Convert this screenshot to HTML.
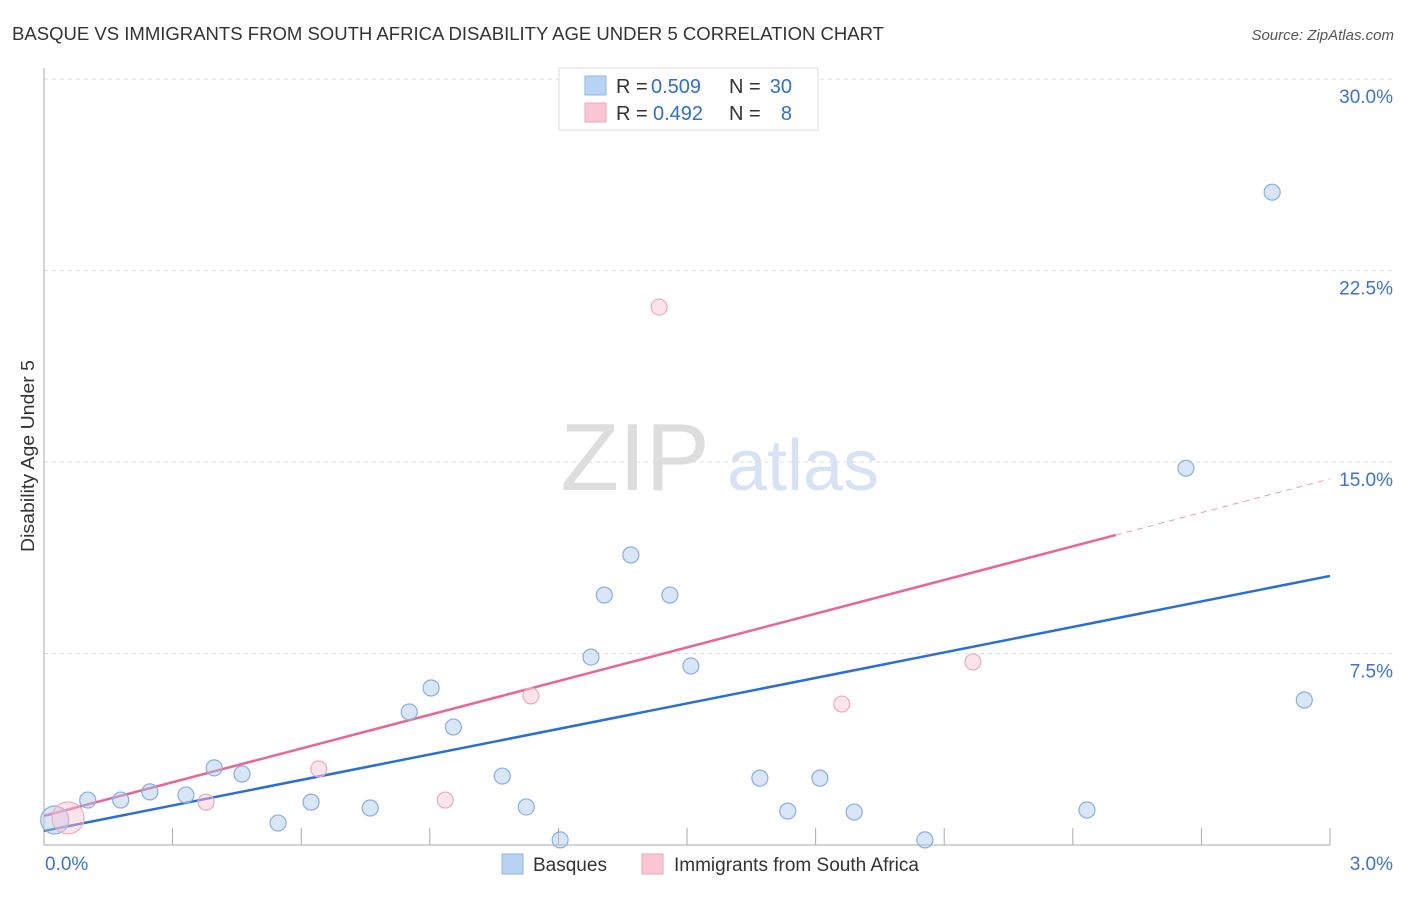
<!DOCTYPE html>
<html><head><meta charset="utf-8"><style>
body{margin:0;background:#fff;font-family:"Liberation Sans",sans-serif;}
svg text{font-family:"Liberation Sans",sans-serif;}
</style></head><body>
<svg id="chart" width="1406" height="892" xmlns="http://www.w3.org/2000/svg">
<text x="12" y="40" font-size="18" fill="#333" textLength="872" lengthAdjust="spacingAndGlyphs">BASQUE VS IMMIGRANTS FROM SOUTH AFRICA DISABILITY AGE UNDER 5 CORRELATION CHART</text>
<text x="1394" y="40" font-size="15" fill="#555" text-anchor="end" font-style="italic">Source: ZipAtlas.com</text>
<text transform="translate(34,456) rotate(-90)" font-size="18" fill="#333" text-anchor="middle" textLength="192" lengthAdjust="spacingAndGlyphs">Disability Age Under 5</text>
<g>
<text x="635" y="490" font-size="96" fill="#ddd" font-family="Liberation Serif" text-anchor="middle">ZIP</text>
<text x="803" y="490" font-size="72" fill="#d7e3f5" text-anchor="middle">atlas</text>
</g>
<g id="grid"></g><g id="axes"></g><g id="lines"></g><g id="pts"></g>
<g>
<rect x="559" y="68" width="259" height="62" fill="#fff" stroke="#ddd"/>
<rect x="585" y="76" width="21" height="19" fill="#b9d3f5" stroke="#8fb4e8"/>
<rect x="585" y="103" width="21" height="19" fill="#f9c6d4" stroke="#f0a4ba"/>
<text x="616" y="93" font-size="20" fill="#333">R =</text>
<text x="651" y="93" font-size="20" fill="#2f6fd0">0.509</text>
<text x="729" y="93" font-size="20" fill="#333">N =</text>
<text x="792" y="93" font-size="20" fill="#2f6fd0" text-anchor="end">30</text>
<text x="616" y="120" font-size="20" fill="#333">R =</text>
<text x="653" y="120" font-size="20" fill="#2f6fd0">0.492</text>
<text x="729" y="120" font-size="20" fill="#333">N =</text>
<text x="792" y="120" font-size="20" fill="#2f6fd0" text-anchor="end">8</text>
</g>
<g>
<rect x="502" y="854" width="21" height="20" fill="#b9d3f5" stroke="#8fb4e8"/>
<text x="533" y="871" font-size="19" fill="#333">Basques</text>
<rect x="642" y="854" width="21" height="20" fill="#f9c6d4" stroke="#f0a4ba"/>
<text x="674" y="871" font-size="19" fill="#333">Immigrants from South Africa</text>
</g>
</svg>
<script>
const blueX=[0.025,0.102,0.179,0.247,0.331,0.397,0.462,0.546,0.623,0.761,0.852,0.903,0.955,1.069,1.125,1.204,1.276,1.307,1.369,1.460,1.509,1.670,1.735,1.810,1.890,2.055,2.433,2.664,2.865,2.940];
const blueY=[0.98,1.76,1.76,2.08,1.96,3.02,2.78,0.86,1.68,1.45,5.21,6.15,4.62,2.70,1.49,0.20,7.36,9.79,11.36,9.79,7.01,2.62,1.33,2.62,1.29,0.20,1.37,14.76,25.57,5.68];
const pinkX=[0.056,0.378,0.641,0.936,1.136,1.435,1.861,2.167];
const pinkY=[1.06,1.68,2.98,1.76,5.84,21.07,5.52,7.17];
const pinkR=[16,8,8,8,8,8,8,8];
const blueR=[14,8,8,8,8,8,8,8,8,8,8,8,8,8,8,8,8,8,8,8,8,8,8,8,8,8,8,8,8,8];
const yTicks=[7.5,15,22.5,30];
const blueLine=[0.55,10.54];
const pinkLine=[1.14,14.34];
const X=v=>44+v*428.67, Y=v=>845-v*25.53;
const NS="http://www.w3.org/2000/svg";
function mk(p,t,a){const e=document.createElementNS(NS,t);for(const k in a)e.setAttribute(k,a[k]);p.appendChild(e);return e;}
const grid=document.getElementById('grid'),axes=document.getElementById('axes'),lines=document.getElementById('lines'),pts=document.getElementById('pts');
yTicks.forEach(v=>{
const l=mk(grid,'line',{x1:44,x2:1394,y1:Y(v),y2:Y(v),stroke:'#ddd','stroke-dasharray':'4,4'});


const t=mk(grid,'text',{x:1393,y:Y(v)+24,'font-size':19,fill:'#3b73d3','text-anchor':'end'});t.textContent=v.toFixed(1)+'%';


});
const ax=mk(axes,'path',{d:`M44,68V845H1330`,stroke:'#aaa',fill:'none'});


for(let i=1;i<=10;i++){const tk=mk(axes,'line',{x1:X(i*0.3),x2:X(i*0.3),y1:828,y2:845,stroke:'#aaa'});

}
[[0,'0.0%','start',45],[3,'3.0%','end',1393]].forEach(d=>{const t=mk(axes,'text',{x:d[3],y:870,'font-size':19,fill:'#3b73d3','text-anchor':d[2]});t.textContent=d[1];

});
const lb=mk(lines,'line',{x1:X(0),y1:Y(blueLine[0]),x2:X(3),y2:Y(blueLine[1]),stroke:'#2b6fd6','stroke-width':2.5});


const pAt=x=>pinkLine[0]+(pinkLine[1]-pinkLine[0])*x/3;
const lp=mk(lines,'line',{x1:X(0),y1:Y(pAt(0)),x2:X(2.5),y2:Y(pAt(2.5)),stroke:'#e8668f','stroke-width':2.5});


const lpd=mk(lines,'line',{x1:X(2.5),y1:Y(pAt(2.5)),x2:X(3),y2:Y(pAt(3)),stroke:'#e8a0b6','stroke-width':1,'stroke-dasharray':'6,5'});


blueX.forEach((x,i)=>{const c=mk(pts,'circle',{cx:X(x),cy:Y(blueY[i]),r:blueR[i],fill:'rgba(170,200,240,0.45)',stroke:'#86afe5','stroke-width':1.2});

});
pinkX.forEach((x,i)=>{const c=mk(pts,'circle',{cx:X(x),cy:Y(pinkY[i]),r:pinkR[i],fill:'rgba(248,195,212,0.45)',stroke:'#f0a8bd','stroke-width':1.2});

});
</script>
</body></html>
